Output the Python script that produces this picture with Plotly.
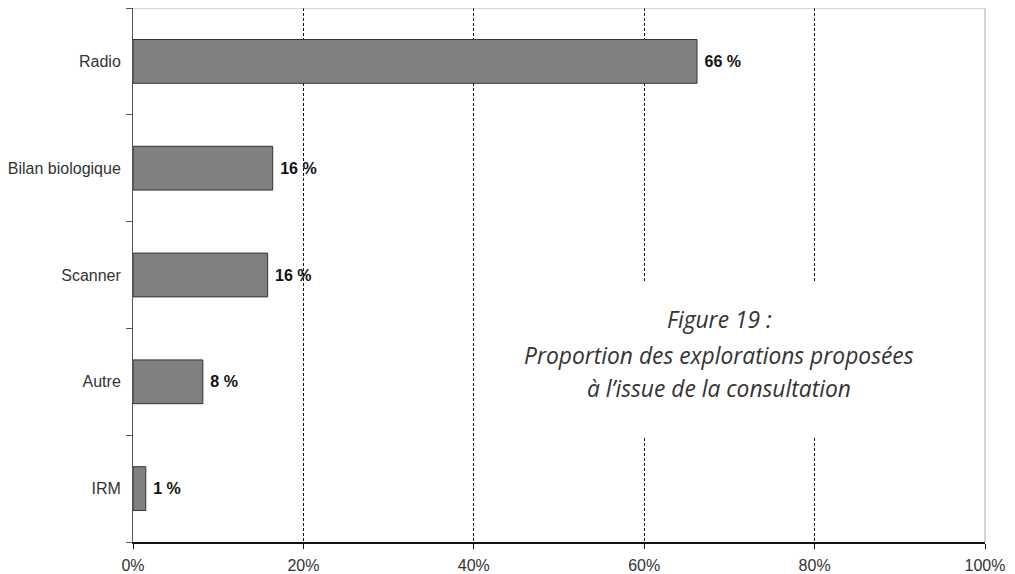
import plotly.graph_objects as go

# --- data ---
categories = ["Radio", "Bilan biologique", "Scanner", "Autre", "IRM"]
values = [66.2, 16.4, 15.8, 8.2, 1.5]
labels = ["66 %", "16 %", "16 %", "8 %", "1 %"]
tick_vals = [0, 20, 40, 60, 80, 100]
tick_text = ["0%", "20%", "40%", "60%", "80%", "100%"]
caption_lines = [
    "Figure 19 :",
    "Proportion des explorations proposées",
    "à l’issue de la consultation",
]

fig = go.Figure()

fig.add_trace(go.Bar(
    x=values,
    y=categories,
    orientation="h",
    width=0.41,
    marker=dict(color="#808080", line=dict(color="#333333", width=1)),
    text=labels,
    textposition="outside",
    textfont=dict(family="Liberation Sans", size=16, color="#111111"),
    texttemplate="\u00a0<b>%{text}</b>",
    cliponaxis=False,
    showlegend=False,
))

# caption: three lines, spaced like the original
caption_y = [0.416, 0.350, 0.288]
annotations = [
    dict(
        xref="x", yref="paper", x=68.8, y=cy, text=line,
        showarrow=False, align="center", yanchor="middle",
        font=dict(family="Open Sans", size=22.8, color="#333333", style="italic"),
    )
    for line, cy in zip(caption_lines, caption_y)
]

# page body has an 8px margin, so the figure is sized/offset for that
fig.update_layout(
    width=1007,
    height=566,
    autosize=False,
    paper_bgcolor="white",
    plot_bgcolor="white",
    margin=dict(l=125, r=30, t=0, b=32),
    font=dict(family="Liberation Sans", size=16, color="#333333"),
    xaxis=dict(
        range=[0, 100],
        tickvals=tick_vals,
        ticktext=tick_text,
        showgrid=True,
        gridcolor="#111111",
        gridwidth=1,
        griddash="3px,2px",
        zeroline=False,
        showline=True,
        linecolor="#111111",
        linewidth=1.5,
        ticks="outside",
        ticklen=5,
        tickcolor="#111111",
        ticklabelstandoff=3,
        tickfont=dict(size=16, color="#333333"),
        automargin=False,
    ),
    yaxis=dict(
        categoryorder="array",
        categoryarray=categories[::-1],
        showgrid=False,
        showline=True,
        linecolor="#555555",
        linewidth=1,
        ticks="outside",
        tickson="boundaries",
        ticklen=6,
        tickcolor="#555555",
        ticklabelstandoff=8,
        tickfont=dict(size=16, color="#333333"),
        automargin=False,
    ),
    shapes=[
        # light frame on top and right
        dict(type="line", xref="paper", yref="paper", x0=0, x1=1, y0=1, y1=1,
             line=dict(color="#aaaaaa", width=1)),
        dict(type="line", xref="paper", yref="paper", x0=1, x1=1, y0=0, y1=1,
             line=dict(color="#aaaaaa", width=1)),
        # white box behind the caption, hiding the gridlines
        dict(type="rect", xref="x", yref="paper", x0=45.4, x1=93.5, y0=0.197, y1=0.487,
             fillcolor="white", line=dict(width=0), layer="above"),
    ],
    annotations=annotations,
)

fig.write_html("out.html")
